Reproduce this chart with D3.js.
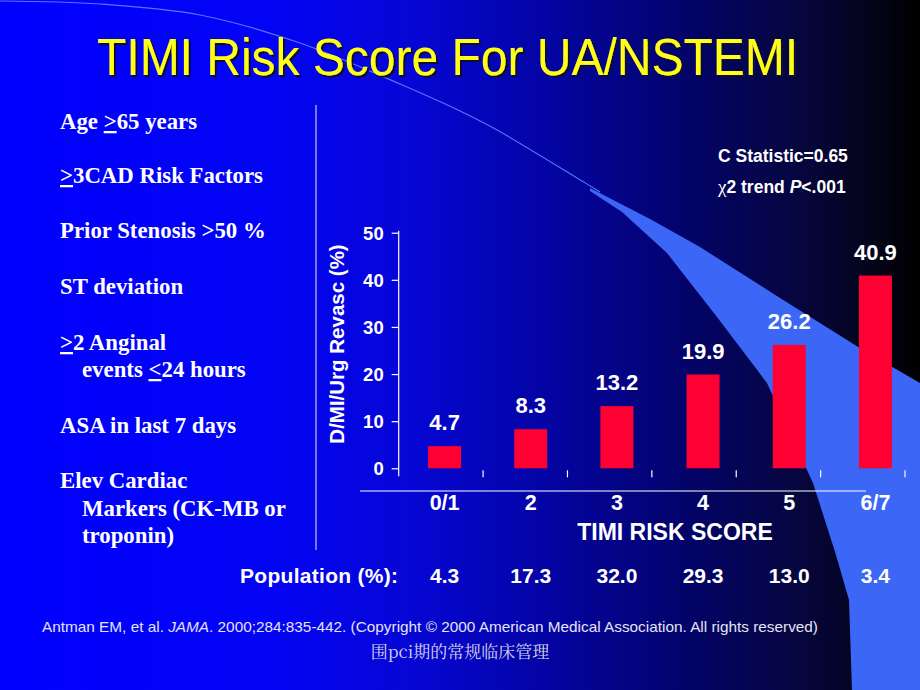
<!DOCTYPE html>
<html><head><meta charset="utf-8">
<script src="https://cdn.jsdelivr.net/npm/d3@7"></script>
<style>html,body{margin:0;padding:0;background:#000;}svg{display:block;}</style>
</head><body>
<script>
// ---- data ----
const categories = ["0/1","2","3","4","5","6/7"];
const eventRates = [4.7, 8.3, 13.2, 19.9, 26.2, 40.9];
const population = ["4.3","17.3","32.0","29.3","13.0","3.4"];
const yTicks = [0,10,20,30,40,50];

const W = 920, H = 690;
const svg = d3.select("body").append("svg").attr("width", W).attr("height", H);
const defs = svg.append("defs");
const grad = defs.append("linearGradient").attr("id","bg").attr("x1","0").attr("x2","1").attr("y1","0").attr("y2","0");
[[0,"#0000ff"],[0.3,"#0303f4"],[0.45,"#0606d4"],[0.6,"#0404a2"],[0.75,"#030368"],[0.87,"#06063e"],[0.94,"#04041e"],[1,"#000000"]]
  .forEach(([o,c]) => grad.append("stop").attr("offset", o).attr("stop-color", c));
const sh = defs.append("filter").attr("id","shadow").attr("x","-5%").attr("y","-20%").attr("width","110%").attr("height","140%");
sh.append("feDropShadow").attr("dx",2).attr("dy",2).attr("stdDeviation",0.6).attr("flood-color","#0a0a30").attr("flood-opacity",1);
svg.append("rect").attr("width",W).attr("height",H).attr("fill","url(#bg)");

// decorative swoosh
const bandPts = [[590,188],[650,219],[700,247],[780,298],[863,350],[920,383],[920,690],[852,690],[849,600],[836,555],[813,483],[767,383],[717,317],[667,253],[622,212],[590,191]];
svg.append("path").attr("d", d3.line().curve(d3.curveLinearClosed)(bandPts)).attr("fill","#3b66f6");
const arcPts = [[0,1],[100,4],[200,15],[300,43],[400,84],[458,110],[497,130],[582,181],[600,192]];
svg.append("path").attr("d", d3.line().curve(d3.curveCatmullRom)(arcPts)).attr("fill","none").attr("stroke","#5577ff").attr("stroke-width",1.1);

// title
svg.append("text").attr("x",97).attr("y",75).attr("font-family","Liberation Sans, Arial, sans-serif").attr("font-size",52)
  .attr("textLength",701).attr("lengthAdjust","spacingAndGlyphs").attr("fill","#ffff14").attr("filter","url(#shadow)")
  .text("TIMI Risk Score For UA/NSTEMI");

// left list
const listLines = [
  {x:60,y:129,parts:[["Age "],[">",1],["65 years"]]},
  {x:60,y:183,parts:[[">",1],["3CAD Risk Factors"]]},
  {x:60,y:238,parts:[["Prior Stenosis >50 %"]]},
  {x:60,y:294,parts:[["ST deviation"]]},
  {x:60,y:350,parts:[[">",1],["2 Anginal"]]},
  {x:82,y:377,parts:[["events "],["<",1],["24 hours"]]},
  {x:60,y:433,parts:[["ASA in last 7 days"]]},
  {x:60,y:488,parts:[["Elev Cardiac"]]},
  {x:82,y:516,parts:[["Markers (CK-MB or"]]},
  {x:82,y:543,parts:[["troponin)"]]}
];
const listG = svg.append("g").attr("font-family","Liberation Serif, Times New Roman, serif").attr("font-weight","bold").attr("font-size",22.8).attr("fill","#ffffff");
listLines.forEach(l => {
  const t = listG.append("text").attr("x",l.x).attr("y",l.y);
  l.parts.forEach(p => {
    const ts = t.append("tspan").text(p[0]);
    if (p[1]) ts.attr("text-decoration","underline");
  });
});
svg.append("line").attr("x1",316).attr("x2",316).attr("y1",105).attr("y2",550).attr("stroke","#c8c8e8").attr("stroke-width",1.2);

// chart
const y = d3.scaleLinear().domain([0,50]).range([468.3,232.7]);
const x = d3.scaleBand().domain(categories).range([401.5,918.5]).padding(0);
const xTick = d3.scaleBand().domain(categories).range([398.7,905]).padding(0);
const bw = 33;
const axisX = 398.7;
const f = "Liberation Sans, Arial, sans-serif";
const chart = svg.append("g").attr("font-family", f).attr("font-weight","bold").attr("fill","#fff");
const cx = d => x(d) + x.bandwidth()/2;

const yAxis = d3.axisLeft(y).tickValues(yTicks).tickSize(7).tickPadding(8).tickFormat(d3.format("d"));
const yg = svg.append("g").attr("transform",`translate(${axisX},0)`).call(yAxis);
yg.select(".domain").remove();
yg.selectAll(".tick line").attr("stroke","#fff").attr("stroke-width",1.2);
yg.selectAll(".tick text").attr("fill","#fff").attr("font-family",f).attr("font-weight","bold").attr("font-size",18.5).attr("dy","0.36em");
svg.append("line").attr("x1",axisX).attr("x2",axisX).attr("y1",y(50)-2).attr("y2",y(0)+8).attr("stroke","#fff").attr("stroke-width",1.2);

// x ticks at category boundaries
svg.append("g").selectAll("line").data(categories).join("line")
  .attr("x1", d => xTick(d)+xTick.step()).attr("x2", d => xTick(d)+xTick.step())
  .attr("y1", y(0)+2).attr("y2", y(0)+9).attr("stroke","#fff").attr("stroke-width",1.2);
svg.append("line").attr("x1",360).attr("x2",866).attr("y1",491).attr("y2",491).attr("stroke","#fff").attr("stroke-width",1.2);

chart.selectAll("rect.bar").data(eventRates).join("rect").attr("class","bar")
  .attr("x",(d,i) => cx(categories[i]) - bw/2)
  .attr("y", d => y(d)).attr("width", bw).attr("height", d => y(0)-y(d)).attr("fill","#ff0033");
chart.selectAll("text.val").data(eventRates).join("text").attr("class","val")
  .attr("x",(d,i) => cx(categories[i])).attr("y", d => y(d)-16)
  .attr("text-anchor","middle").attr("font-size",22).text(d => d3.format(".1f")(d));
chart.selectAll("text.cat").data(categories).join("text").attr("class","cat")
  .attr("x", d => cx(d)).attr("y",510).attr("text-anchor","middle").attr("font-size",21.5).text(d => d);
chart.append("text").attr("x",675).attr("y",540).attr("text-anchor","middle").attr("font-size",23).text("TIMI RISK SCORE");
chart.append("text").attr("transform","translate(344,344) rotate(-90)").attr("text-anchor","middle").attr("font-size",20.5).text("D/MI/Urg Revasc (%)");

chart.append("text").attr("x",718).attr("y",162).attr("font-size",17.5).text("C Statistic=0.65");
const chi = chart.append("text").attr("x",718).attr("y",193).attr("font-size",17.5);
chi.append("tspan").attr("font-family","Liberation Serif, serif").attr("font-weight","normal").attr("font-size",19).text("χ");
chi.append("tspan").text("2 trend ");
chi.append("tspan").attr("font-style","italic").text("P");
chi.append("tspan").text("<.001");

// population row
chart.append("text").attr("x",240).attr("y",583).attr("font-size",21).attr("textLength",158).text("Population (%):");
chart.selectAll("text.pop").data(population).join("text").attr("class","pop")
  .attr("x",(d,i) => cx(categories[i])).attr("y",583).attr("text-anchor","middle").attr("font-size",21).text(d => d);

// footer
const foot = svg.append("text").attr("x",42).attr("y",632).attr("font-family",f).attr("font-size",15).attr("fill","#e4e4f4").attr("textLength",776).attr("lengthAdjust","spacingAndGlyphs");
foot.append("tspan").text("Antman EM, et al. ");
foot.append("tspan").attr("font-style","italic").text("JAMA");
foot.append("tspan").text(". 2000;284:835-442. (Copyright © 2000 American Medical Association. All rights reserved)");
svg.append("text").attr("x",460).attr("y",658).attr("text-anchor","middle").attr("font-family","Noto Serif CJK SC, Noto Sans CJK SC, serif").attr("font-size",17).attr("fill","#d4d4e8").text("围pci期的常规临床管理");
</script>
</body></html>
